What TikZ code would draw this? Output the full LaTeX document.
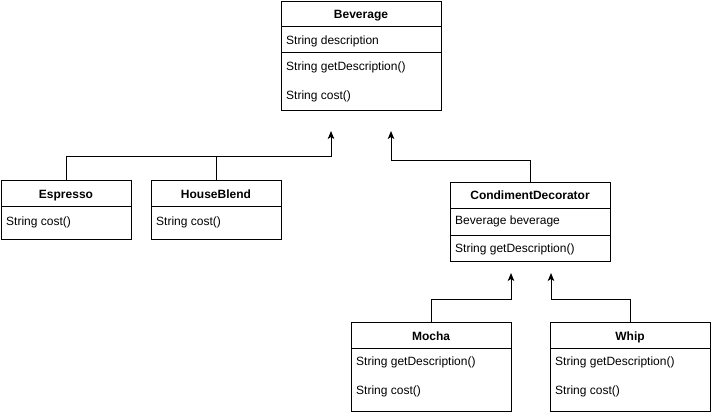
\documentclass[tikz,border=0pt]{standalone}
\usepackage{fontspec}
\setmainfont{Liberation Sans}
\usetikzlibrary{arrows.meta}
\begin{document}
\begin{tikzpicture}[x=1pt,y=-1pt,
  cls/.style={draw=black, line width=1pt, anchor=north west, inner sep=0pt, outer sep=0pt},
  sepline/.style={draw=black, line width=1pt},
  ttl/.style={font=\fontsize{12}{14}\selectfont\bfseries, anchor=base, inner sep=0pt},
  mem/.style={font=\fontsize{12}{14}\selectfont, anchor=base west, inner sep=0pt},
  conn/.style={draw=black, line width=1pt, -{Stealth[length=8pt,width=6.5pt,inset=2pt]}},
  plain/.style={draw=black, line width=1pt}
]
\useasboundingbox[fill=white] (0,0) rectangle (711,416);

% Beverage
\node[cls, minimum width=160pt, minimum height=109pt] (bev) at (281,1) {};
\node[ttl] (bevT) at (361,18.5) {Beverage};
\draw[sepline] (bev.west |- 0,26) -- (bev.east |- 0,26);
\draw[sepline] (bev.west |- 0,52) -- (bev.east |- 0,52);
\node[mem] (bev1) at (286,44.3) {String description};
\node[mem] (bev2) at (286,70) {String getDescription()};
\node[mem] (bev3) at (286,99.5) {String cost()};

% Espresso
\node[cls, minimum width=130pt, minimum height=59pt] (esp) at (1,180) {};
\node[ttl] (espT) at (66,198.5) {Espresso};
\draw[sepline] (esp.west |- 0,206) -- (esp.east |- 0,206);
\node[mem] (esp1) at (6,225.5) {String cost()};

% HouseBlend
\node[cls, minimum width=130pt, minimum height=59pt] (hb) at (151,180) {};
\node[ttl] (hbT) at (216,198.5) {HouseBlend};
\draw[sepline] (hb.west |- 0,206) -- (hb.east |- 0,206);
\node[mem] (hb1) at (156,225.5) {String cost()};

% CondimentDecorator
\node[cls, minimum width=160pt, minimum height=79.5pt] (cd) at (450,182) {};
\node[ttl] (cdT) at (530,199.7) {CondimentDecorator};
\draw[sepline] (cd.west |- 0,208) -- (cd.east |- 0,208);
\draw[sepline] (cd.west |- 0,235.5) -- (cd.east |- 0,235.5);
\node[mem] (cd1) at (455,224.7) {Beverage beverage};
\node[mem] (cd2) at (455,252) {String getDescription()};

% Mocha
\node[cls, minimum width=160pt, minimum height=89pt] (mo) at (351,322) {};
\node[ttl] (moT) at (431,340) {Mocha};
\draw[sepline] (mo.west |- 0,348) -- (mo.east |- 0,348);
\node[mem] (mo1) at (356,365.5) {String getDescription()};
\node[mem] (mo2) at (356,394.5) {String cost()};

% Whip
\node[cls, minimum width=160pt, minimum height=89pt] (wh) at (550,322) {};
\node[ttl] (whT) at (630,340) {Whip};
\draw[sepline] (wh.west |- 0,348) -- (wh.east |- 0,348);
\node[mem] (wh1) at (555,365.5) {String getDescription()};
\node[mem] (wh2) at (555,394.5) {String cost()};

% arrow end points
\coordinate (bevL) at (331,131);
\coordinate (bevR) at (391,131);
\coordinate (cdL) at (511,273);
\coordinate (cdR) at (551,273);

% connectors
\draw[conn] (esp.north) -- ++(0,-24) -| (bevL);
\draw[plain] (hb.north) -- ++(0,-24);
\draw[conn] (cd.north) -- ++(0,-22) -| (bevR);
\draw[conn] (mo.north) -- ++(0,-23) -| (cdL);
\draw[conn] (wh.north) -- ++(0,-23) -| (cdR);
\end{tikzpicture}
\end{document}
